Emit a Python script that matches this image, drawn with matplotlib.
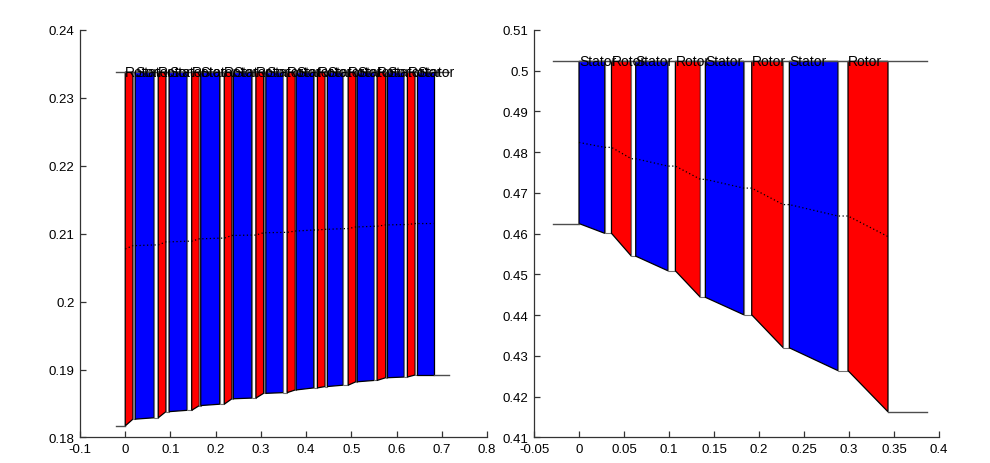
import matplotlib
matplotlib.use("Agg")
import matplotlib.pyplot as plt
from matplotlib.patches import Polygon

plt.rcParams['font.family'] = ['Liberation Sans', 'DejaVu Sans']

# left plot: 10 stage compressor (rotor first)
L_rows = ['Rotor', 'Stator'] * 10
L_x0 = [0.000, 0.022, 0.073, 0.097, 0.147, 0.167, 0.219, 0.239, 0.289, 0.311,
        0.358, 0.378, 0.425, 0.447, 0.493, 0.513, 0.557, 0.580, 0.624, 0.645]
L_x1 = [0.017, 0.064, 0.090, 0.137, 0.164, 0.209, 0.236, 0.280, 0.306, 0.350,
        0.376, 0.417, 0.442, 0.482, 0.510, 0.551, 0.576, 0.617, 0.641, 0.682]
L_hub = [0.1827, 0.1829, 0.1838, 0.1840, 0.1847, 0.1849, 0.1857, 0.1858, 0.1865, 0.1866,
         0.1870, 0.1873, 0.1875, 0.1877, 0.1882, 0.1884, 0.1888, 0.1889, 0.1892, 0.1892]
L_hub_in = 0.1817
L_tip = 0.2338
L_inlet = -0.0206
L_outlet = 0.716

# right plot: 4 stage turbine (stator first)
R_rows = ['Stator', 'Rotor'] * 4
R_x0 = [0.0, 0.0361, 0.0630, 0.1071, 0.1404, 0.1919, 0.2337, 0.2989]
R_x1 = [0.0286, 0.0582, 0.0989, 0.1349, 0.1832, 0.2270, 0.2878, 0.3433]
R_hub = [0.4601, 0.4545, 0.4509, 0.4444, 0.4401, 0.4320, 0.4264, 0.4163]
R_hub_in = 0.4625
R_tip = 0.5023
R_inlet = -0.0289
R_outlet = 0.3871

colors = {'Rotor': '#ff0000', 'Stator': '#0000ff'}


def draw_machine(ax, rows, x0, x1, hub, hub_in, tip, inlet, outlet):
    h_prev = hub_in
    xs, mean = [], []
    for i, name in enumerate(rows):
        # gap before this row
        if i > 0 and x0[i] > x1[i - 1]:
            ax.add_patch(Polygon([(x1[i - 1], h_prev), (x0[i], h_prev), (x0[i], tip), (x1[i - 1], tip)],
                                 closed=True, facecolor='white', edgecolor='0.45', lw=0.8))
        ax.add_patch(Polygon([(x0[i], h_prev), (x1[i], hub[i]), (x1[i], tip), (x0[i], tip)],
                             closed=True, facecolor=colors[name], edgecolor='black', lw=0.9))
        ax.text(x0[i], tip, name, ha='left', va='center', fontsize=10)
        xs += [x0[i], x1[i]]
        mean += [(h_prev + tip) / 2, (hub[i] + tip) / 2]
        h_prev = hub[i]
    ax.plot([inlet, x0[0]], [hub_in, hub_in], color='0.3', lw=1)
    ax.plot([x1[-1], outlet], [hub[-1], hub[-1]], color='0.3', lw=1)
    ax.plot([inlet, outlet], [tip, tip], color='0.3', lw=1)
    ax.plot(xs, mean, color='black', lw=0.9, linestyle=(0, (1, 2)))


fig = plt.figure(figsize=(9.9, 4.64), dpi=100)
ax1 = fig.add_axes([0.0808, 0.055, 0.4111, 0.8782])
ax2 = fig.add_axes([0.5394, 0.055, 0.4091, 0.8782])

draw_machine(ax1, L_rows, L_x0, L_x1, L_hub, L_hub_in, L_tip, L_inlet, L_outlet)
draw_machine(ax2, R_rows, R_x0, R_x1, R_hub, R_hub_in, R_tip, R_inlet, R_outlet)

ax1.set_xlim(-0.1, 0.8)
ax1.set_ylim(0.18, 0.24)
ax1.set_xticks([-0.1, 0, 0.1, 0.2, 0.3, 0.4, 0.5, 0.6, 0.7, 0.8])
ax1.set_xticklabels(['-0.1', '0', '0.1', '0.2', '0.3', '0.4', '0.5', '0.6', '0.7', '0.8'])
ax1.set_yticks([0.18, 0.19, 0.2, 0.21, 0.22, 0.23, 0.24])
ax1.set_yticklabels(['0.18', '0.19', '0.2', '0.21', '0.22', '0.23', '0.24'])

ax2.set_xlim(-0.05, 0.4)
ax2.set_ylim(0.41, 0.51)
ax2.set_xticks([-0.05, 0, 0.05, 0.1, 0.15, 0.2, 0.25, 0.3, 0.35, 0.4])
ax2.set_xticklabels(['-0.05', '0', '0.05', '0.1', '0.15', '0.2', '0.25', '0.3', '0.35', '0.4'])
ax2.set_yticks([0.41, 0.42, 0.43, 0.44, 0.45, 0.46, 0.47, 0.48, 0.49, 0.5, 0.51])
ax2.set_yticklabels(['0.41', '0.42', '0.43', '0.44', '0.45', '0.46', '0.47', '0.48', '0.49', '0.5', '0.51'])

for ax in (ax1, ax2):
    ax.spines['top'].set_visible(False)
    ax.spines['right'].set_visible(False)
    for s in ('left', 'bottom'):
        ax.spines[s].set_color('#333333')
        ax.spines[s].set_linewidth(0.9)
    ax.tick_params(direction='in', length=4, width=0.9, color='#333333',
                   labelsize=9.5, pad=4)

fig.savefig('out.png', dpi=100)
